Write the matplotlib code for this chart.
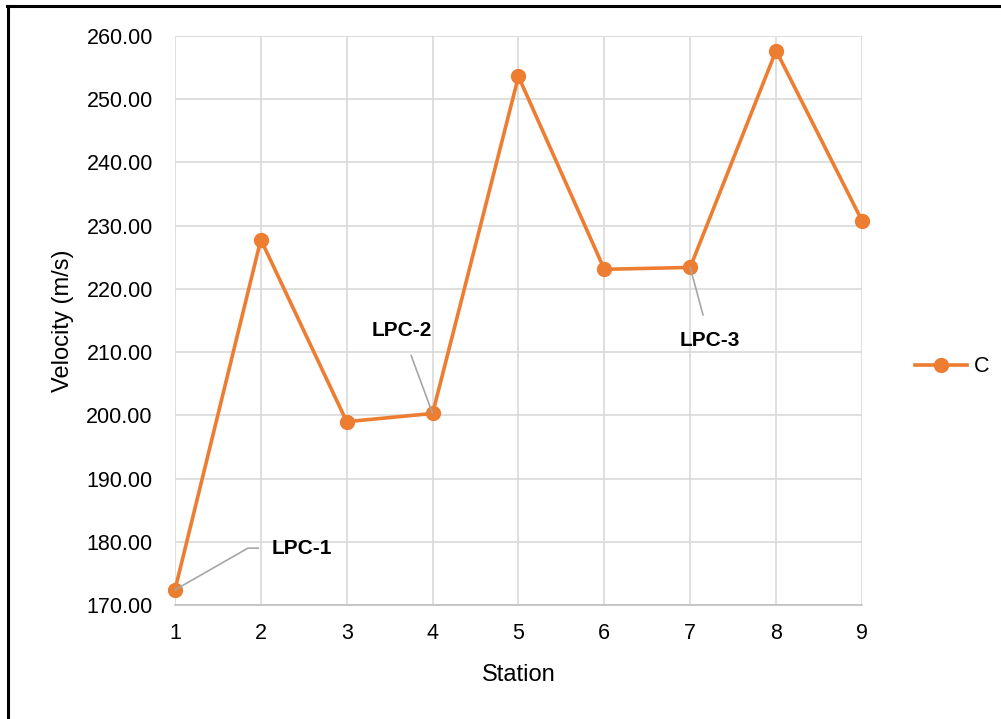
import matplotlib
matplotlib.use("Agg")
import matplotlib.pyplot as plt
from matplotlib.lines import Line2D

plt.rcParams['font.family'] = ['Liberation Sans', 'DejaVu Sans']

stations = [1, 2, 3, 4, 5, 6, 7, 8, 9]
velocity_c = [172.4, 227.8, 199.0, 200.3, 253.6, 223.1, 223.4, 257.7, 230.8]
labels = ['LPC-1', 'LPC-2', 'LPC-3']
label_pos = [(2.13, 179.0), (3.64, 213.5), (7.23, 211.8)]

orange = '#ED7D31'

fig = plt.figure(figsize=(10.01, 7.19), dpi=100)
ax = fig.add_axes([0.1748, 0.1585, 0.6863, 0.7914])

ax.plot(stations, velocity_c, color=orange, lw=2.6, marker='o', ms=10,
        label='C', zorder=3, clip_on=False)

ax.set_xlim(1, 9)
ax.set_ylim(170, 260)
ax.set_xticks(stations)
ax.set_yticks(range(170, 261, 10))
ax.set_yticklabels([f'{v:.2f}' for v in range(170, 261, 10)])
ax.grid(True, color='#d9d9d9', lw=1.2)
ax.set_axisbelow(True)
for s in ['top', 'right', 'left']:
    ax.spines[s].set_visible(False)
ax.spines['bottom'].set_color('#bfbfbf')
ax.spines['bottom'].set_linewidth(1.2)
ax.tick_params(length=0, labelsize=15.5, colors='black')
ax.tick_params(axis='y', pad=16)
ax.tick_params(axis='x', pad=13)
ax.set_xlabel('Station', fontsize=17, labelpad=14)
ax.set_ylabel('Velocity (m/s)', fontsize=17, labelpad=9)

# annotations
ax.plot([stations[0], 1.85, 1.97], [velocity_c[0], 179.0, 179.0],
        color='#a6a6a6', lw=1.2, zorder=4, clip_on=False)
ax.text(label_pos[0][0], label_pos[0][1], labels[0], fontsize=15, fontweight='bold',
        va='center', ha='left')
for lab, i, pos in zip(labels[1:], [3, 6], label_pos[1:]):
    ax.annotate(lab, xy=(stations[i], velocity_c[i]), xytext=pos,
                fontsize=15, fontweight='bold', ha='center', va='center',
                arrowprops=dict(arrowstyle='-', color='#a6a6a6', lw=1.2,
                                shrinkA=10, shrinkB=0),
                zorder=4)

handle = Line2D([], [], color=orange, lw=2.6, marker='o', ms=10)
fig.legend([handle], ['C'], loc='center left', bbox_to_anchor=(0.895, 0.49),
           frameon=False, fontsize=15.5, handlelength=2.4, handletextpad=0.3)

# frame of the screenshot (left and top edges)
fig.add_artist(Line2D([0.008, 0.008], [0, 0.991], color='black', lw=2.2,
                      transform=fig.transFigure))
fig.add_artist(Line2D([0.007, 1.0], [0.991, 0.991], color='black', lw=2.2,
                      transform=fig.transFigure))

fig.savefig('out.png', dpi=100)
